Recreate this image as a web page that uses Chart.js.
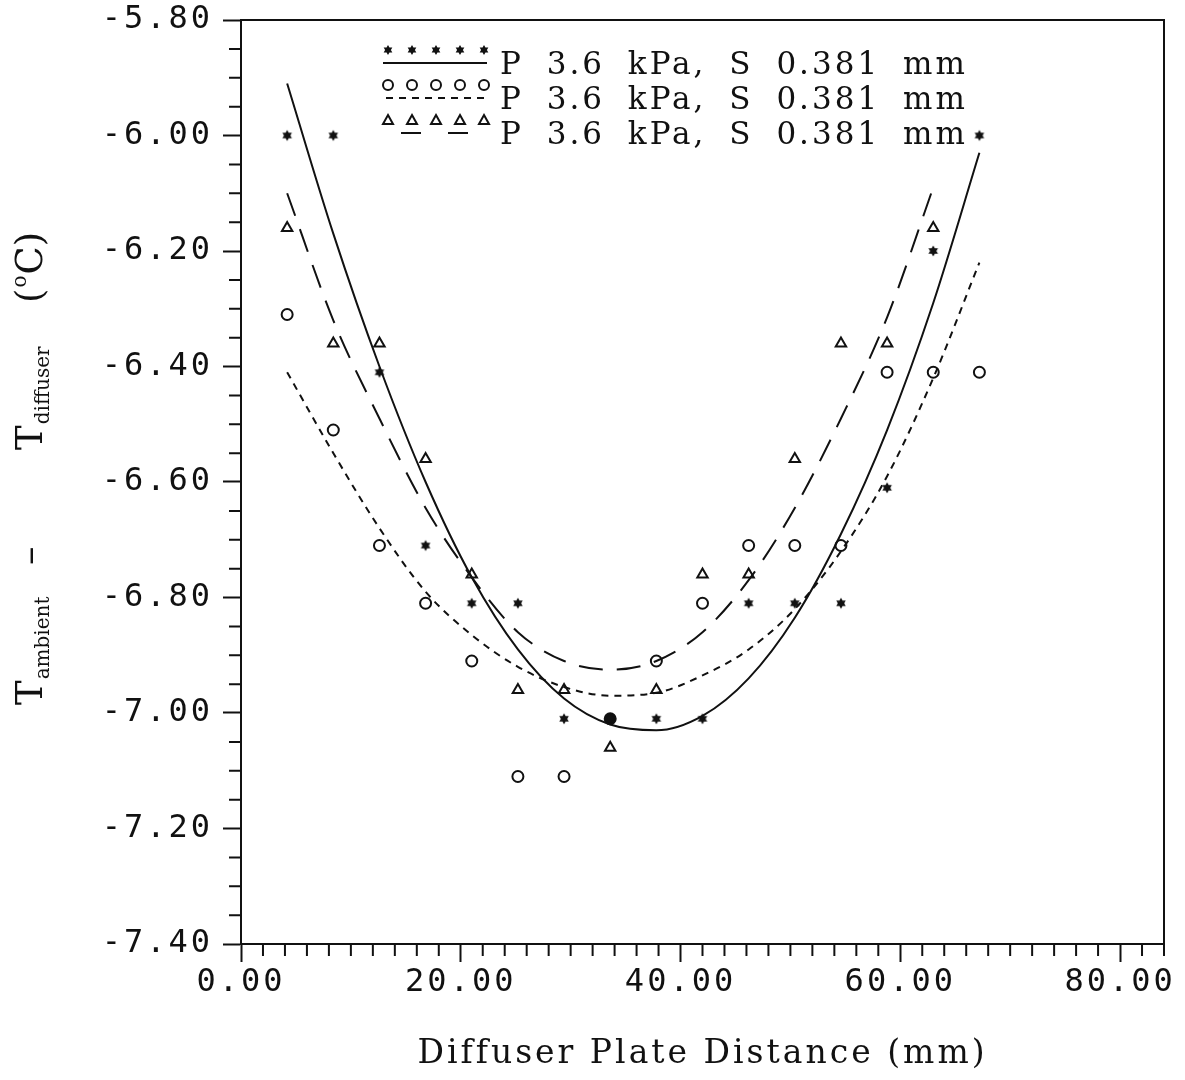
<!DOCTYPE html>
<html>
<head>
<meta charset="utf-8">
<script src="https://cdn.jsdelivr.net/npm/chart.js"></script>
<style>
  html, body { margin: 0; padding: 0; background: #fff; }
  #wrap { width: 1185px; height: 1080px; }
</style>
</head>
<body>
<div id="wrap"><canvas id="myChart"></canvas></div>
<script>
// plate distance (mm) where readings were taken
const distance = [4.2, 8.4, 12.6, 16.8, 21.0, 25.2, 29.4, 33.6, 37.8, 42.0, 46.2, 50.4, 54.6, 58.8, 63.0, 67.2];

// measured T_ambient - T_diffuser (deg C), three runs
const starRun     = [-6.00, -6.00, -6.41, -6.71, -6.81, -6.81, -7.01, -7.01, -7.01, -7.01, -6.81, -6.81, -6.81, -6.61, -6.20, -6.00];
const circleRun   = [-6.31, -6.51, -6.71, -6.81, -6.91, -7.11, -7.11, -7.01, -6.91, -6.81, -6.71, -6.71, -6.71, -6.41, -6.41, -6.41];
const triangleRun = [-6.16, -6.36, -6.36, -6.56, -6.76, -6.96, -6.96, -7.06, -6.96, -6.76, -6.76, -6.56, -6.36, -6.36, -6.16, null];

// fitted curves at the same distances
const starFit     = [-5.91, -6.17, -6.40, -6.60, -6.765, -6.89, -6.975, -7.02, -7.03, -7.005, -6.94, -6.835, -6.69, -6.51, -6.29, -6.03];
const circleFit   = [-6.41, -6.55, -6.68, -6.79, -6.865, -6.92, -6.955, -6.97, -6.965, -6.935, -6.89, -6.82, -6.72, -6.59, -6.42, -6.22];
const triangleFit = [-6.10, -6.32, -6.49, -6.645, -6.765, -6.86, -6.91, -6.925, -6.91, -6.86, -6.77, -6.645, -6.49, -6.315, -6.09, null];

const legendLabels = ['P 3.6 kPa, S 0.381 mm', 'P 3.6 kPa, S 0.381 mm', 'P 3.6 kPa, S 0.381 mm'];
const xMajor = [0, 20, 40, 60, 80];
const yMajor = [-7.40, -7.20, -7.00, -6.80, -6.60, -6.40, -6.20, -6.00, -5.80];

const ink = '#111';

function toPoints(ys) {
  return distance.map((x, i) => ({ x: x, y: ys[i] }));
}

function starPath(ctx, x, y, r) {
  ctx.beginPath();
  for (let k = 0; k < 2; k++) {
    for (let i = 0; i < 3; i++) {
      const a = -Math.PI / 2 + k * Math.PI + i * 2 * Math.PI / 3;
      const px = x + r * Math.cos(a), py = y + r * Math.sin(a);
      if (i == 0) ctx.moveTo(px, py); else ctx.lineTo(px, py);
    }
    ctx.closePath();
  }
  ctx.fillStyle = ink;
  ctx.fill();
}

// star marker as an image for pointStyle
const starImg = document.createElement('canvas');
starImg.width = 14; starImg.height = 14;
starPath(starImg.getContext('2d'), 7, 7, 5.5);

function isMajor(list, v) {
  return list.some(m => Math.abs(m - v) < 1e-6);
}

const plotFrame = {
  id: 'plotFrame',
  beforeLayout(chart) { chart.ctx.letterSpacing = '3px'; },
  beforeDraw(chart) { chart.ctx.letterSpacing = '3px'; },
  afterDraw(chart) {
    const ctx = chart.ctx, a = chart.chartArea;
    const xs = chart.scales.x, ys = chart.scales.y;
    ctx.save();
    ctx.letterSpacing = '0px';
    ctx.strokeStyle = ink;
    ctx.lineWidth = 2;
    ctx.setLineDash([]);

    // top and right side of the box
    ctx.beginPath();
    ctx.moveTo(a.left, a.top); ctx.lineTo(a.right, a.top); ctx.lineTo(a.right, a.bottom);
    ctx.stroke();

    // minor ticks
    ctx.beginPath();
    xs.ticks.forEach(t => {
      if (isMajor(xMajor, t.value)) return;
      const px = xs.getPixelForValue(t.value);
      ctx.moveTo(px, a.bottom); ctx.lineTo(px, a.bottom + 12);
    });
    ys.ticks.forEach(t => {
      if (isMajor(yMajor, t.value)) return;
      const py = ys.getPixelForValue(t.value);
      ctx.moveTo(a.left, py); ctx.lineTo(a.left - 12, py);
    });
    ctx.stroke();

    // legend block inside the plot
    const mx = [388, 412, 436, 460, 484];
    const rows = [50, 85, 120];
    mx.forEach(x => starPath(ctx, x, rows[0], 5));
    ctx.lineWidth = 2;
    mx.forEach(x => { ctx.beginPath(); ctx.arc(x, rows[1], 5, 0, Math.PI * 2); ctx.stroke(); });
    mx.forEach(x => {
      ctx.beginPath();
      ctx.moveTo(x, rows[2] - 5); ctx.lineTo(x + 5, rows[2] + 4); ctx.lineTo(x - 5, rows[2] + 4);
      ctx.closePath(); ctx.stroke();
    });
    ctx.beginPath(); ctx.moveTo(383, 63); ctx.lineTo(487, 63); ctx.stroke();
    ctx.setLineDash([7, 6]);
    ctx.beginPath(); ctx.moveTo(386, 98); ctx.lineTo(486, 98); ctx.stroke();
    ctx.setLineDash([20, 27]);
    ctx.beginPath(); ctx.moveTo(401, 133); ctx.lineTo(470, 133); ctx.stroke();
    ctx.setLineDash([]);

    ctx.fillStyle = ink;
    ctx.font = '31px "DejaVu Serif"';
    ctx.letterSpacing = '3px';
    ctx.wordSpacing = '10px';
    ctx.textBaseline = 'alphabetic';
    ctx.textAlign = 'left';
    legendLabels.forEach((s, i) => ctx.fillText(s, 500, 74 + i * 35));
    ctx.wordSpacing = '0px';
    ctx.letterSpacing = '0px';

    // y axis title, rotated, with subscripts
    ctx.translate(42, 705);
    ctx.rotate(-Math.PI / 2);
    const big = '37px "DejaVu Serif"', small = '20px "DejaVu Serif"';
    let x = 0;
    ctx.font = big; ctx.fillText('T', x, 0); x += ctx.measureText('T').width;
    ctx.font = small; ctx.fillText('ambient', x + 1, 7);
    ctx.font = big; ctx.fillText('\u2013', 140, 0);
    x = 255;
    ctx.fillText('T', x, 0); x += ctx.measureText('T').width;
    ctx.font = small; ctx.fillText('diffuser', x + 1, 7);
    x = 402;
    ctx.font = big; ctx.fillText('(', x, 0); x += ctx.measureText('(').width;
    ctx.font = small; ctx.fillText('o', x + 1, -16); x += ctx.measureText('o').width + 2;
    ctx.font = big; ctx.fillText('C)', x, 0);
    ctx.restore();
  }
};

const tickFont = { family: '"DejaVu Sans Mono", monospace', size: 32 };

const ctx = document.getElementById('myChart');
new Chart(ctx, {
  type: 'scatter',
  data: {
    datasets: [
      { type: 'line', data: toPoints(starFit), borderColor: ink, borderWidth: 2, pointRadius: 0, cubicInterpolationMode: 'monotone', fill: false },
      { type: 'line', data: toPoints(circleFit), borderColor: ink, borderWidth: 2, borderDash: [7, 6], pointRadius: 0, cubicInterpolationMode: 'monotone', fill: false },
      { type: 'line', data: toPoints(triangleFit), borderColor: ink, borderWidth: 2, borderDash: [24, 14], pointRadius: 0, cubicInterpolationMode: 'monotone', fill: false, spanGaps: false },
      { data: toPoints(starRun), pointStyle: starImg, pointRadius: 7, showLine: false },
      {
        data: toPoints(circleRun), pointStyle: 'circle', pointRadius: 5.5, pointBorderWidth: 2, pointBorderColor: ink, showLine: false,
        // where a circle lands on a star the plotter left a solid blob
        pointBackgroundColor: c => starRun[c.dataIndex] === circleRun[c.dataIndex] ? ink : 'rgba(0,0,0,0)'
      },
      { data: toPoints(triangleRun), pointStyle: 'triangle', pointRadius: 6, pointBorderWidth: 2, pointBorderColor: ink, pointBackgroundColor: 'rgba(0,0,0,0)', showLine: false }
    ]
  },
  options: {
    responsive: true,
    maintainAspectRatio: false,
    animation: false,
    layout: { padding: { top: 20, right: 21, left: 0, bottom: 0 } },
    plugins: { legend: { display: false }, tooltip: { enabled: false } },
    scales: {
      x: {
        type: 'linear', min: 0, max: 84,
        afterFit(s) { s.height = 136; s.paddingLeft = 0; s.paddingRight = 0; },
        ticks: {
          stepSize: 2, autoSkip: false, maxRotation: 0, color: ink, font: tickFont, padding: 1,
          callback: v => isMajor(xMajor, v) ? v.toFixed(2) : ''
        },
        grid: {
          drawOnChartArea: false, tickLength: 18, tickWidth: 2,
          tickColor: c => (c.tick && isMajor(xMajor, c.tick.value)) ? ink : 'rgba(0,0,0,0)'
        },
        border: { color: ink, width: 2 },
        title: {
          display: true, text: 'Diffuser Plate Distance (mm)', color: ink,
          font: { family: '"DejaVu Serif", serif', size: 33 }, padding: { top: 0, bottom: 6 }
        }
      },
      y: {
        type: 'linear', min: -7.40, max: -5.80,
        afterFit(s) { s.width = 241; s.paddingTop = 0; s.paddingBottom = 0; },
        ticks: {
          stepSize: 0.05, autoSkip: false, color: ink, font: tickFont, padding: 10,
          callback: v => isMajor(yMajor, v) ? v.toFixed(2) : ''
        },
        grid: {
          drawOnChartArea: false, tickLength: 18, tickWidth: 2,
          tickColor: c => (c.tick && isMajor(yMajor, c.tick.value)) ? ink : 'rgba(0,0,0,0)'
        },
        border: { color: ink, width: 2 }
      }
    }
  },
  plugins: [plotFrame]
});
</script>
</body>
</html>
